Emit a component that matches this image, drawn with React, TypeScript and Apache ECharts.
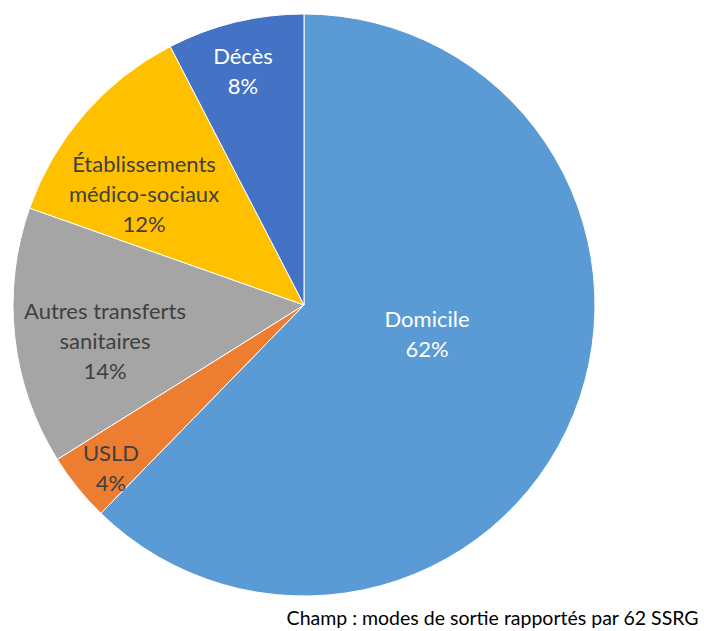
import React, { useEffect, useRef } from "react";
import * as echarts from "echarts";

const categories = [
  "Domicile",
  "USLD",
  "Autres transferts\nsanitaires",
  "Établissements\nmédico-sociaux",
  "Décès",
];
const values = [62.3, 3.8, 14.3, 12.0, 7.6];
const colors = ["#5B9BD5", "#ED7D31", "#A5A5A5", "#FFC000", "#4472C4"];
const labelColors = ["#FFFFFF", "#404040", "#404040", "#404040", "#FFFFFF"];
const labelCenters: [number, number][] = [
  [427, 333],
  [111, 467],
  [105, 340],
  [144, 193],
  [243, 70],
];
const footnote = "Champ : modes de sortie rapportés par 62 SSRG";

export default function App() {
  const ref = useRef<HTMLDivElement>(null);
  useEffect(() => {
    document.body.style.margin = "0";
    const chart = echarts.init(ref.current!, undefined, { renderer: "svg" });
    chart.setOption({
      animation: false,
      backgroundColor: "#FFFFFF",
      textStyle: { fontFamily: "Lato" },
      graphic: [
        {
          type: "text",
          right: 5,
          top: 607,
          style: {
            text: footnote,
            fontFamily: "Lato",
            fontSize: 19.5,
            fill: "#000000",
          },
        },
      ],
      series: [
        {
          type: "pie",
          center: [304, 305],
          radius: [0, 291],
          startAngle: 90,
          clockwise: true,
          avoidLabelOverlap: false,
          itemStyle: { borderColor: "#FFFFFF", borderWidth: 1 },
          emphasis: { disabled: true },
          labelLine: { show: false },
          label: {
            show: true,
            position: "inside",
            fontFamily: "Lato",
            fontSize: 22,
            lineHeight: 30,
            align: "center",
            formatter: (p: any) => `${p.name}\n${Math.round(p.percent)}%`,
          },
          labelLayout: (p: any) => ({
            x: labelCenters[p.dataIndex][0],
            y: labelCenters[p.dataIndex][1],
            align: "center",
            verticalAlign: "middle",
          }),
          data: categories.map((c, i) => ({
            name: c,
            value: values[i],
            itemStyle: { color: colors[i] },
            label: { color: labelColors[i] },
          })),
        },
      ],
    });
    return () => chart.dispose();
  }, []);
  return <div ref={ref} style={{ width: 704, height: 631 }} />;
}
